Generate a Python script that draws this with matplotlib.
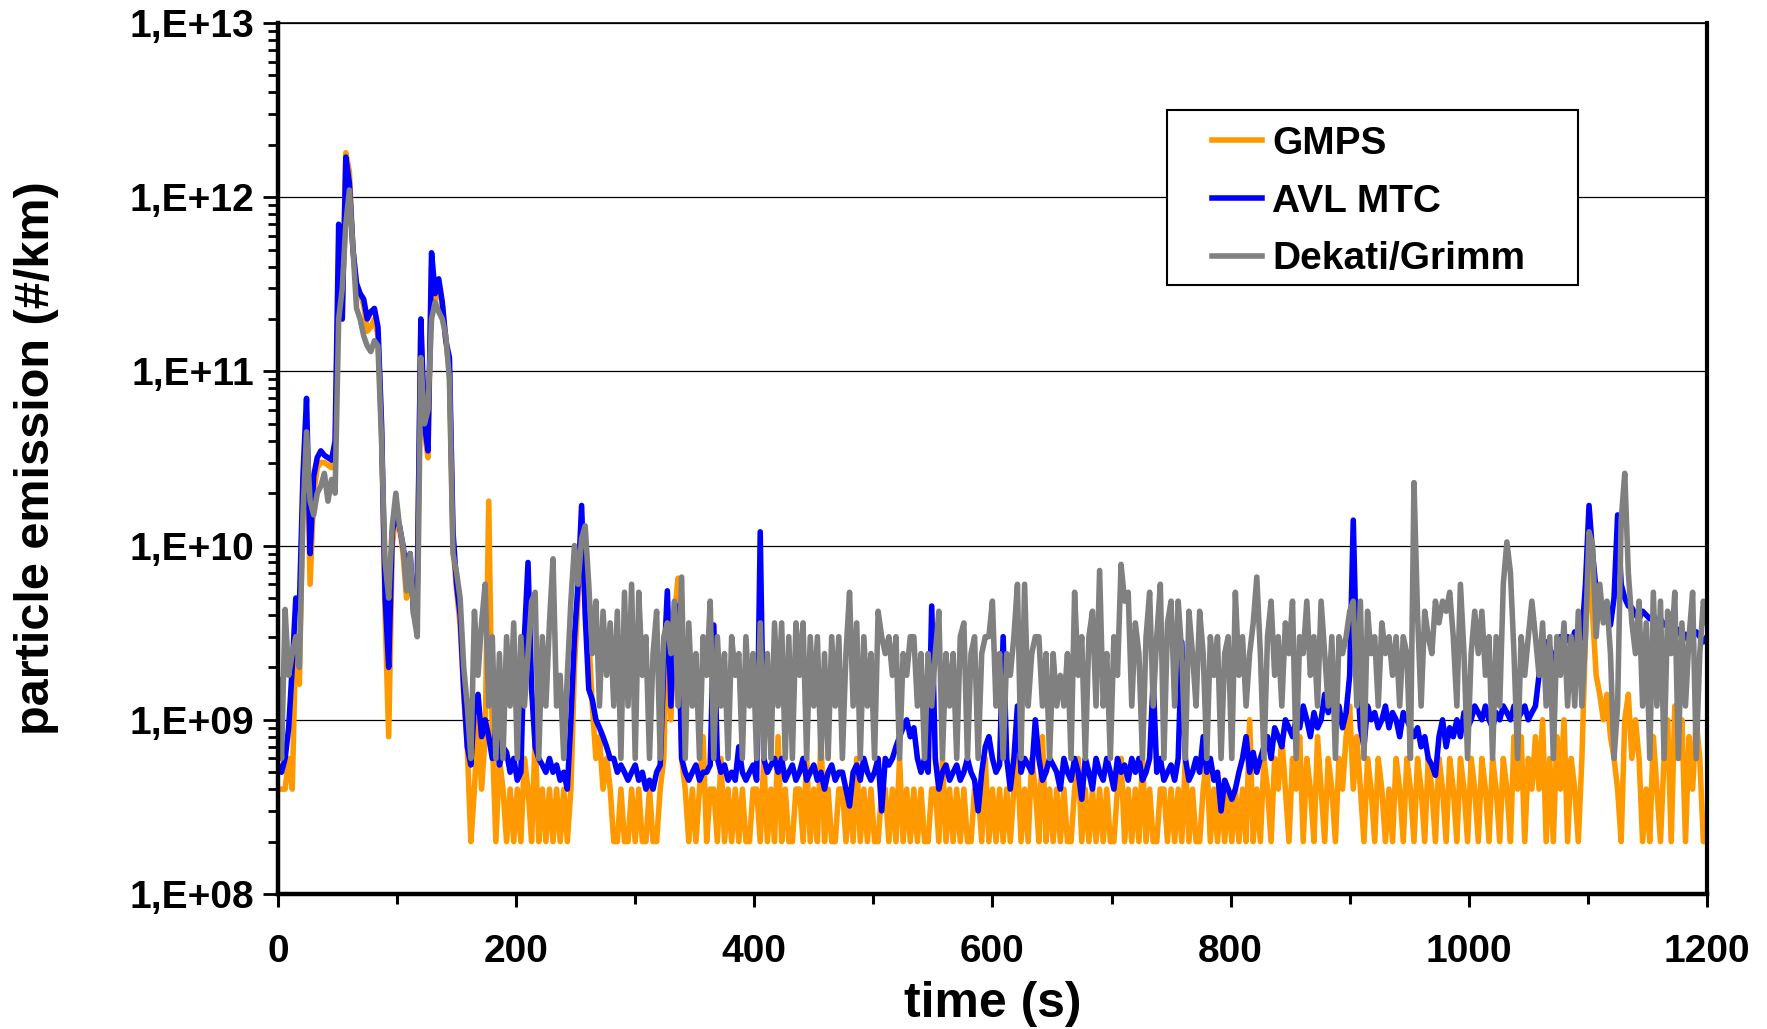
"""
Particle emission over the test cycle: GMPS vs AVL MTC vs Dekati/Grimm
"""
import numpy as np
import matplotlib
matplotlib.use("Agg")
from matplotlib import pyplot as plt
from matplotlib.patches import Rectangle
from matplotlib.ticker import LogLocator, MultipleLocator, NullFormatter

plt.rcParams['font.family'] = ['Liberation Sans', 'DejaVu Sans']
plt.rcParams['font.weight'] = 'bold'
plt.rcParams['axes.labelweight'] = 'bold'

# Values every 3 s, in units of 1e8 #/km (one row = 30 s)
UNIT: float = 1e8
time_s = np.arange(0, 1201, 3)

gmps = [
    4, 4, 4, 6, 4, 30, 16, 200, 500, 60,
    200, 280, 300, 300, 290, 280, 350, 4000, 2000, 18000,
    14000, 5000, 3000, 2800, 2400, 1700, 1800, 2000, 1600, 450,
    40, 8, 100, 150, 130, 90, 50, 85, 40, 60,
    1800, 450, 320, 4000, 2600, 3000, 2400, 1500, 1000, 100,
    55, 35, 14, 7, 2, 4, 10, 4, 8, 180,
    8, 2, 6, 4, 2, 4, 2, 4, 2, 6,
    4, 2, 8, 2, 4, 2, 4, 2, 4, 2,
    4, 2, 4, 20, 50, 120, 60, 30, 12, 6,
    8, 4, 6, 4, 2, 2, 4, 2, 2, 4,
    2, 4, 2, 2, 4, 2, 2, 4, 6, 40,
    10, 40, 65, 6, 4, 2, 4, 2, 4, 8,
    2, 4, 4, 2, 6, 2, 4, 2, 4, 2,
    4, 2, 2, 4, 4, 2, 6, 2, 4, 2,
    8, 2, 4, 2, 2, 4, 4, 2, 6, 2,
    4, 2, 8, 2, 4, 2, 2, 4, 4, 2,
    4, 2, 6, 2, 4, 2, 4, 2, 2, 4,
    4, 2, 4, 2, 6, 2, 4, 2, 4, 2,
    4, 2, 2, 4, 4, 2, 6, 2, 4, 2,
    4, 2, 4, 2, 2, 4, 4, 2, 6, 2,
    4, 2, 4, 2, 4, 2, 4, 6, 2, 4,
    2, 6, 4, 2, 8, 2, 4, 2, 4, 2,
    4, 2, 2, 4, 6, 2, 4, 2, 4, 2,
    4, 2, 4, 2, 2, 4, 6, 2, 4, 2,
    4, 2, 6, 2, 4, 2, 2, 4, 4, 2,
    4, 2, 4, 2, 6, 2, 4, 2, 2, 4,
    6, 2, 4, 2, 4, 2, 4, 2, 4, 2,
    4, 2, 10, 2, 4, 2, 6, 4, 2, 6,
    4, 8, 4, 2, 6, 4, 8, 2, 6, 4,
    2, 8, 4, 2, 6, 4, 2, 6, 4, 8,
    12, 4, 8, 4, 2, 6, 4, 2, 6, 4,
    2, 4, 2, 6, 4, 2, 6, 4, 2, 6,
    4, 2, 6, 4, 2, 6, 4, 2, 6, 4,
    2, 6, 4, 2, 6, 4, 2, 6, 4, 2,
    6, 4, 2, 6, 4, 2, 8, 4, 8, 2,
    6, 4, 8, 4, 10, 2, 6, 2, 8, 4,
    10, 2, 6, 4, 2, 6, 30, 80, 40, 18,
    14, 10, 14, 8, 6, 4, 2, 10, 14, 6,
    10, 6, 2, 4, 2, 8, 4, 2, 6, 10,
    2, 12, 6, 10, 2, 8, 4, 10, 6, 2,
    2,
]

avl_mtc = [
    5.5, 5, 6, 9, 20, 50, 45, 250, 700, 90,
    250, 320, 350, 330, 320, 310, 400, 7000, 2000, 17000,
    12000, 5000, 3200, 2800, 2600, 2000, 2200, 2300, 1800, 500,
    50, 20, 120, 150, 130, 100, 70, 90, 40, 60,
    2000, 500, 350, 4800, 2800, 3400, 2500, 1500, 1200, 120,
    60, 40, 15, 7, 5.5, 12, 14, 8, 10, 8,
    6, 9, 5.5, 7, 6.5, 5, 6, 4.5, 5, 30,
    80, 15, 7, 6, 5.5, 5, 6, 5, 5.5, 4.5,
    5, 4, 10, 30, 60, 170, 40, 15, 13, 10,
    9, 8, 7, 6, 6, 5, 5.5, 5, 4.5, 5,
    5.5, 4.5, 5, 4, 4.5, 4, 5, 5.5, 20, 55,
    12, 40, 45, 6, 5, 4.5, 5, 5.5, 4.5, 5,
    5, 5.5, 35, 6, 5, 5.5, 4.5, 5, 4.5, 7,
    5, 4.5, 5, 5.5, 4.5, 120, 6, 5, 5.5, 6,
    5, 6, 4.5, 5, 5.5, 4.5, 5, 6, 4.5, 5,
    5.5, 4.5, 5, 4, 5, 5.5, 4.5, 5, 5, 4,
    3.2, 5, 5.5, 4.5, 6, 5, 4.5, 5, 6, 3,
    6, 5.5, 6, 7, 8, 9, 10, 8, 9, 6,
    5, 6, 5, 45, 6, 4, 5, 5.5, 4.5, 5,
    5.5, 4.5, 5, 6, 5, 4.5, 3, 5, 7, 8,
    6, 5, 5.5, 30, 6, 4, 6, 12, 5, 6,
    5.5, 5, 10, 6, 4.5, 5, 6, 5.5, 5, 4,
    6, 5, 4.5, 6, 5, 3.5, 6, 5, 4, 6,
    5, 4.5, 6, 5, 4, 6, 5, 5.5, 4.5, 6,
    5, 6, 4.5, 5, 6, 17, 5, 6, 4.5, 5,
    5.5, 4.5, 6, 28, 6, 4.5, 5, 6, 5, 8,
    5, 6, 4.5, 5, 3, 4.5, 4, 3.5, 4, 5,
    6, 8, 5, 6.5, 5, 6, 7, 8, 6, 9,
    8, 7, 10, 9, 8, 10, 9, 12, 10, 8,
    11, 9, 10, 14, 11, 15, 10, 12, 9, 11,
    18, 140, 20, 9, 7, 12, 10, 11, 9, 10,
    12, 9, 11, 10, 8, 11, 10, 9, 8, 9,
    7, 8, 6, 5.5, 4.8, 8, 10, 7, 9, 8,
    10, 8, 11, 9, 10, 12, 11, 10, 12, 10,
    9, 11, 10, 12, 11, 10, 12, 10, 11, 12,
    10, 11, 12, 18, 25, 28, 26, 22, 25, 30,
    28, 30, 27, 32, 28, 30, 60, 170, 90, 55,
    50, 45, 46, 35, 50, 150, 60, 50, 45, 44,
    40, 38, 42, 40, 38, 40, 36, 38, 35, 36,
    34, 30, 33, 30, 31, 28, 30, 32, 30, 28,
    30,
]

dekati_grimm = [
    17, 6, 43, 18, 24, 30, 20, 150, 450, 180,
    150, 200, 220, 260, 180, 240, 200, 2000, 3000, 7000,
    11000, 5000, 2300, 2000, 1600, 1400, 1300, 1500, 1400, 400,
    80, 50, 130, 200, 130, 100, 55, 90, 40, 30,
    1200, 500, 600, 2000, 2500, 2200, 2000, 1600, 900, 90,
    70, 50, 20, 12, 6, 42, 18, 36, 60, 12,
    30, 6, 24, 6, 30, 12, 36, 6, 30, 12,
    24, 48, 54, 6, 30, 12, 36, 84, 12, 18,
    6, 18, 48, 100, 60, 110, 130, 60, 24, 48,
    12, 42, 18, 36, 12, 42, 6, 54, 12, 60,
    6, 54, 18, 30, 6, 24, 42, 6, 30, 36,
    24, 48, 12, 66, 6, 36, 12, 24, 6, 30,
    18, 48, 6, 30, 12, 24, 6, 30, 18, 24,
    6, 30, 12, 24, 6, 36, 6, 24, 6, 36,
    12, 36, 6, 30, 6, 36, 18, 36, 6, 30,
    12, 30, 6, 24, 6, 30, 12, 30, 6, 24,
    54, 12, 36, 6, 30, 12, 24, 6, 42, 30,
    24, 30, 18, 30, 6, 24, 18, 30, 30, 12,
    24, 6, 24, 12, 24, 42, 6, 24, 12, 24,
    6, 30, 36, 6, 24, 30, 6, 24, 30, 30,
    48, 12, 24, 6, 24, 18, 30, 60, 6, 60,
    12, 24, 30, 30, 12, 24, 6, 24, 12, 18,
    12, 24, 6, 54, 18, 30, 6, 30, 42, 12,
    72, 12, 24, 6, 30, 18, 78, 48, 54, 12,
    36, 24, 6, 30, 54, 12, 30, 60, 6, 36,
    48, 12, 48, 24, 6, 42, 24, 12, 42, 24,
    6, 30, 18, 30, 6, 24, 30, 6, 54, 18,
    30, 12, 24, 36, 66, 24, 6, 30, 48, 18,
    30, 12, 36, 24, 48, 6, 30, 24, 48, 18,
    30, 12, 48, 24, 12, 30, 6, 30, 24, 30,
    42, 48, 12, 48, 6, 42, 24, 30, 12, 36,
    24, 30, 18, 30, 12, 30, 24, 6, 230, 40,
    12, 42, 30, 24, 48, 36, 48, 42, 54, 30,
    12, 60, 24, 6, 24, 42, 24, 42, 18, 30,
    6, 30, 12, 60, 105, 70, 24, 6, 30, 18,
    30, 48, 30, 18, 36, 12, 30, 6, 30, 18,
    36, 12, 30, 12, 42, 12, 30, 120, 100, 30,
    60, 36, 48, 24, 6, 12, 140, 260, 70, 36,
    24, 48, 12, 36, 6, 54, 12, 48, 6, 42,
    24, 54, 6, 36, 12, 30, 54, 6, 24, 48,
    36,
]

series_names = ["GMPS", "AVL MTC", "Dekati/Grimm"]
series_colours = ["#FF9900", "#0000FF", "#808080"]
y_ticks = [1e8, 1e9, 1e10, 1e11, 1e12, 1e13]
y_tick_labels = ["1,E+08", "1,E+09", "1,E+10", "1,E+11", "1,E+12", "1,E+13"]
x_ticks = [0, 200, 400, 600, 800, 1000, 1200]

for values in (gmps, avl_mtc, dekati_grimm):
    assert len(values) == len(time_s), len(values)

fig = plt.figure(figsize=(17.67, 10.29), dpi=100)
ax = fig.add_axes([0.1573, 0.1312, 0.8087, 0.8464])

for values, name, colour in zip((gmps, avl_mtc, dekati_grimm), series_names, series_colours):
    ax.plot(time_s, np.array(values) * UNIT, color=colour, lw=4.0, label=name,
            solid_joinstyle='round', zorder=2)

ax.set_yscale('log')
ax.set_ylim(1e8, 1e13)
ax.set_xlim(0, 1200)
ax.set_yticks(y_ticks, y_tick_labels)
ax.yaxis.set_minor_locator(LogLocator(base=10, subs=np.arange(2, 10), numticks=20))
ax.yaxis.set_minor_formatter(NullFormatter())
ax.set_xticks(x_ticks)
ax.xaxis.set_minor_locator(MultipleLocator(100))

ax.tick_params(axis='y', which='major', direction='out', length=11, width=2, labelsize=28, pad=6)
ax.tick_params(axis='y', which='minor', direction='out', length=7, width=2)
ax.tick_params(axis='x', which='major', direction='out', length=9, width=2.2, labelsize=28, pad=20)
ax.tick_params(axis='x', which='minor', direction='out', length=7, width=2.2)

ax.yaxis.grid(True, which='major', color='black', lw=0.9)
ax.set_axisbelow(True)
ax.spines['left'].set_linewidth(3.2)
ax.spines['bottom'].set_linewidth(3.2)
ax.spines['top'].set_linewidth(1.2)
ax.spines['right'].set_linewidth(3.0)

ax.set_xlabel("time (s)", fontsize=36, fontweight='bold', labelpad=8)
ax.set_ylabel("particle emission (#/km)", fontsize=35, fontweight='bold')
ax.yaxis.set_label_coords(-0.153, 0.5)

# legend: white framed box, entries placed inside it
ax.add_patch(Rectangle((0.6221, 0.6992), 0.2876, 0.2009, transform=ax.transAxes,
                       facecolor='white', edgecolor='black', lw=1.5, zorder=4))
ax.legend(loc='upper left', bbox_to_anchor=(0.6536, 0.882), frameon=False,
          fontsize=28, handlelength=1.29, handletextpad=0.26, labelspacing=0.56,
          borderpad=0, borderaxespad=0).set_zorder(5)

fig.savefig("out.png", dpi=100)
